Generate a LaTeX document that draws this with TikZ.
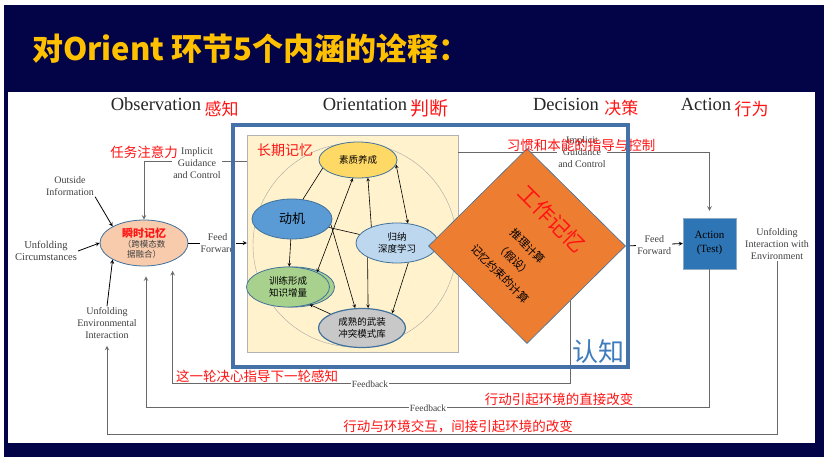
\documentclass[tikz,border=0pt]{standalone}
\usepackage{fontspec}
\setmainfont{Liberation Serif}
\newfontfamily\cjk{Noto Sans CJK SC}
\usepackage{xcolor}
\usetikzlibrary{shapes,arrows,positioning,fit,calc}

\definecolor{slidenavy}{RGB}{3,3,72}
\definecolor{titlegold}{RGB}{255,192,0}
\definecolor{notered}{RGB}{255,20,20}
\definecolor{frameblue}{RGB}{68,114,168}
\definecolor{cogblue}{RGB}{62,124,190}
\definecolor{edgeblue}{RGB}{65,113,156}
\definecolor{beige}{RGB}{255,242,204}
\definecolor{peach}{RGB}{248,203,173}
\definecolor{qualyellow}{RGB}{255,217,102}
\definecolor{motiveblue}{RGB}{91,155,213}
\definecolor{lightblue}{RGB}{189,215,238}
\definecolor{traingreen}{RGB}{169,209,142}
\definecolor{libgray}{RGB}{200,200,200}
\definecolor{wmorange}{RGB}{237,125,49}
\definecolor{actblue}{RGB}{46,117,182}
\definecolor{linegray}{RGB}{105,105,105}
\definecolor{txtgray}{RGB}{64,64,64}

\begin{document}
\begin{tikzpicture}[x=1pt, y=-1pt,
        oodatext/.style={align=center, text=txtgray, inner sep=1pt, font=\fontsize{10}{12}\selectfont},
        header/.style={inner sep=0pt, text=black!85, font=\fontsize{18.5}{20}\selectfont},
        headcn/.style={inner sep=0pt, text=notered, font=\cjk\fontsize{17}{19}\selectfont},
        rednote/.style={inner sep=0pt, text=notered, font=\cjk\fontsize{13.5}{15}\selectfont},
        memory/.style={ellipse, draw=edgeblue, line width=0.8pt, inner sep=0pt, align=center, font=\cjk\fontsize{9.5}{12}\selectfont},
        arrow/.style={->, >=stealth},
        link/.style={line width=0.6pt},
        feed/.style={draw=linegray, line width=1pt}
    ]
    \useasboundingbox (0,0) rectangle (832,465);

    % Slide background
    \fill[slidenavy] (4,5) rectangle (824,457);
    \fill[white] (8,92) rectangle (815,443);

    % Title
    \node[anchor=west, inner sep=0pt, text=titlegold, font=\cjk\bfseries\fontsize{31}{33}\selectfont] (title) at (32,49) {对Orient 环节5个内涵的诠释：};

    % Phase headers
    \node[header] (obs) at (156,104) {Observation};
    \node[headcn, right=3pt of obs, yshift=-5pt] (obscn) {感知};
    \node[header] (ori) at (365,104) {Orientation};
    \node[headcn, right=3pt of ori, yshift=-4pt, font=\cjk\fontsize{19}{21}\selectfont] (oricn) {判断};
    \node[header] (dec) at (566,104) {Decision};
    \node[headcn, right=5pt of dec, yshift=-4pt] (deccn) {决策};
    \node[header] (act) at (706,104) {Action};
    \node[headcn, right=3pt of act, yshift=-5pt] (actcn) {行为};

    % Orientation: long-term memory
    \node[draw=gray!60, fill=beige, minimum width=211, minimum height=217] (ltm) at (352.5,243.5) {};
    \node[circle, draw=gray!70, minimum size=204] (ring) at (355,245) {};
    \node[rednote, font=\cjk\fontsize{14}{16}\selectfont] (ltmcn) at (285,150) {长期记忆};

    \node[memory, fill=qualyellow, minimum width=78, minimum height=36] (quality) at (358,160) {素质养成};
    \node[memory, fill=motiveblue, minimum width=80, minimum height=40, font=\cjk\fontsize{13}{15}\selectfont] (motive) at (292,219) {动机};
    \node[memory, fill=lightblue, minimum width=82, minimum height=40] (induct) at (397,243) {归纳\\深度学习};
    \node[memory, fill=traingreen, minimum width=83, minimum height=40] (trainshadow) at (293,287) {};
    \node[memory, fill=traingreen, minimum width=83, minimum height=40] (train) at (288,287) {训练形成\\知识增量};
    \node[memory, fill=libgray, line width=1.2pt, minimum width=87, minimum height=39] (library) at (362,328) {成熟的武装\\冲突模式库};

    \draw[link] (motive.61) -- (quality.193);
    \draw[link, arrow] (motive) -- (train);
    \draw[link] (motive) -- (induct);
    \draw[link, arrow] (motive.-8) -- (library.109);
    \draw[link, <->, >=stealth] (train.27) -- (quality.254);
    \draw[link, arrow] (induct.148) -- (quality.299);
    \draw[link, <->, >=stealth] (quality.-7) -- (induct.61);
    \draw[link, arrow] (induct.206) -- (library.73);
    \draw[link, arrow] (induct.-60) -- (library.26);
    \draw[link, arrow] (library.156) -- (train.-39);

    % Observation: sensory memory
    \node[ellipse, draw=edgeblue, fill=peach, line width=0.8pt, minimum width=88, minimum height=46, inner sep=0pt, align=center, text=txtgray, font=\cjk\fontsize{8.5}{10}\selectfont] (sensory) at (144,243) {{\fontsize{11}{12}\selectfont\bfseries\textcolor{notered}{瞬时记忆}}\\（跨模态数\\据融合）};

    \node[oodatext] (outside) at (70,186) {Outside\\Information};
    \node[oodatext, font=\fontsize{10.5}{12}\selectfont] (circum) at (46,251) {Unfolding\\Circumstances};
    \node[oodatext] (envint) at (107,323) {Unfolding\\Environmental\\Interaction};
    \draw[arrow, line width=0.8pt] (outside.south east) -- (sensory.north west);
    \draw[arrow, line width=0.8pt] (circum.east) -- (sensory.west);
    \draw[arrow, line width=0.8pt] (envint.north) -- (sensory.south west);

    % Implicit guidance back to observation
    \draw[feed, arrow] ([yshift=-27pt]ltm.north west) -| (sensory.north);
    \node[oodatext, fill=white] (guideL) at (197,163) {Implicit\\Guidance\\and Control};
    \node[rednote, anchor=east] (attention) at (178,152) {任务注意力};

    \draw[arrow, line width=0.8pt] (sensory.east) -- node[oodatext, fill=white] (ffleft) {Feed\\Forward} (sensory.east -| ltm.west);

    % Action
    \node[fill=actblue, draw=edgeblue!60!white, minimum width=53, minimum height=51, align=center, font=\fontsize{11}{14}\selectfont] (action) at (709.5,243.5) {Action\\(Test)};
    \node[oodatext] (unfold) at (777,244) {Unfolding\\Interaction with\\Environment};

    % Implicit guidance to action
    \draw[feed, arrow, shorten >=7pt] ([yshift=-18pt]ltm.north east) -| (action.north);

    % Decision: working memory
    \node[diamond, fill=wmorange, draw=edgeblue, line width=0.6pt, minimum width=197, minimum height=195, inner sep=0pt] (workmem) at (527,246) {};
    \node[rotate=-45, inner sep=0pt, text=notered, font=\cjk\fontsize{21}{23}\selectfont] (wmtitle) at (552,219) {工作记忆};
    \node[rotate=-45, inner sep=0pt, align=center, font=\cjk\fontsize{11}{19.5}\selectfont] (wmtext) at (514,260) {推理计算\\（假设）\\记忆约束的计算};

    \node[oodatext, fill=white] (guideR) at (582,152) {Implicit\\Guidance\\and Control};
    \node[rednote] (habit) at (581,145) {习惯和本能的指导与控制};

    \draw[arrow, line width=0.8pt] (workmem.east) -- node[oodatext, fill=white] (ffright) {Feed\\Forward} (action.west);

    % Feedback loops
    \coordinate (loopA) at (0,383);
    \coordinate (loopB) at (0,407);
    \coordinate (loopC) at (0,434);
    \coordinate (decfeed) at ($(workmem.east)!0.56!(workmem.south)$);
    \draw[feed, arrow, shorten >=10pt] (decfeed) -- (decfeed |- loopA) -| (sensory.-32);
    \draw[feed, arrow, shorten >=10pt] (action.south) -- (action.south |- loopB) -| (sensory.-85);
    \draw[feed, arrow, shorten >=6pt] (unfold.south) -- (unfold.south |- loopC) -| (envint.south);
    \node[oodatext, fill=white, inner sep=0.5pt, font=\fontsize{9.5}{10}\selectfont] (fbA) at (370,384) {Feedback};
    \node[oodatext, fill=white, inner sep=0.5pt, font=\fontsize{9.5}{10}\selectfont] (fbB) at (428,408) {Feedback};

    % Cognition frame
    \node[draw=frameblue, line width=4.5pt, minimum width=395, minimum height=242] (cognition) at (430.5,246) {};
    \node[inner sep=0pt, text=cogblue, font=\cjk\fontsize{26}{28}\selectfont] (cogcn) at (598,352) {认知};

    % Notes on the loops
    \node[rednote] (note1) at (257,376) {这一轮决心指导下一轮感知};
    \node[rednote] (note2) at (559,399) {行动引起环境的直接改变};
    \node[rednote] (note3) at (458,426) {行动与环境交互，间接引起环境的改变};

\end{tikzpicture}
\end{document}
